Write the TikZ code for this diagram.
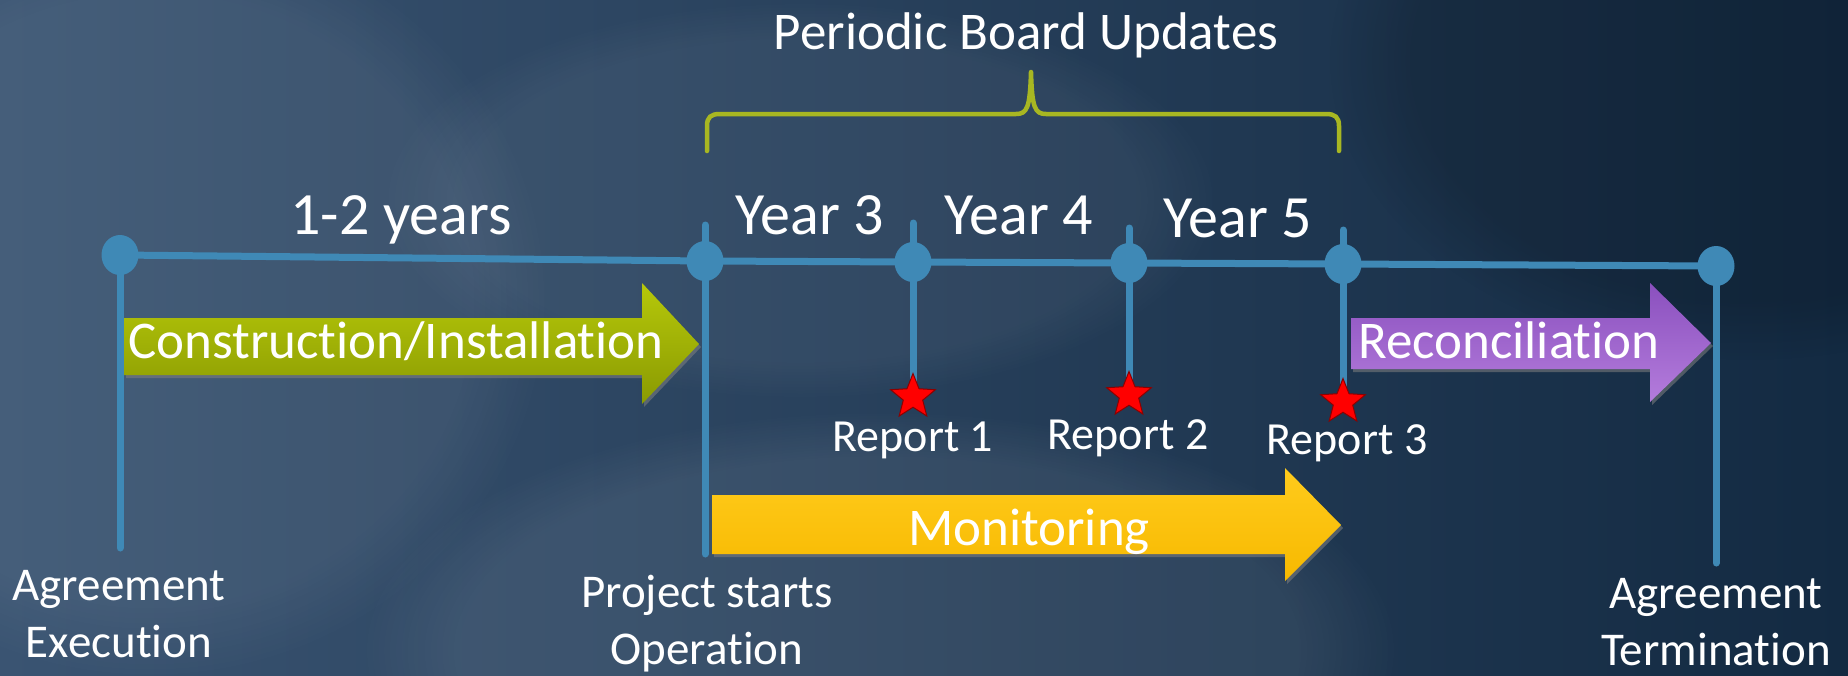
\documentclass[tikz,border=0pt]{standalone}
\usepackage{fontspec}
\setmainfont[Ligatures=NoCommon]{Carlito}
\usetikzlibrary{shapes.geometric,shadows,fadings}
\definecolor{bgA}{HTML}{3A5472}
\definecolor{bgB}{HTML}{132A42}
\definecolor{tl}{HTML}{3F89B6}
\definecolor{bracec}{HTML}{A8B722}
\definecolor{grT}{HTML}{B6C80A}
\definecolor{grB}{HTML}{8A9A02}
\definecolor{orT}{HTML}{FFCB1C}
\definecolor{orB}{HTML}{F7B900}
\definecolor{puT}{HTML}{8A50BE}
\definecolor{puB}{HTML}{B47CDC}
\tikzset{
  tline/.style={draw=tl, line width=7, line cap=round},
  tdot/.style={ellipse, fill=tl, minimum width=37, minimum height=40, inner sep=0},
  rstar/.style={star, star points=5, star point ratio=2.3, minimum size=47, inner sep=0, fill=red, draw=red!55!black, line width=1},
  wtxt/.style={text=white, inner sep=0},
  yeartxt/.style={wtxt, anchor=base, font=\fontsize{60}{70}\selectfont},
  reptxt/.style={wtxt, anchor=base, font=\fontsize{46}{54}\selectfont},
  arrtxt/.style={wtxt, anchor=base, font=\fontsize{53}{62}\selectfont},
  lbltxt/.style={wtxt, align=center, font=\fontsize{47}{57}\selectfont},
  arshadow/.style={drop shadow={opacity=0.55, shadow xshift=2pt, shadow yshift=-3pt}}
}
\begin{document}
\begin{tikzpicture}[x=1pt,y=-1pt]
\useasboundingbox (0,0) rectangle (1848,675);
% background
\shade[left color=bgA, right color=bgB] (0,0) rectangle (1848,675);
\fill[white, opacity=0.06, path fading=circle with fuzzy edge 20 percent] (150,300) ellipse (400 and 380);
\fill[white, opacity=0.07, path fading=circle with fuzzy edge 20 percent] (880,650) ellipse (520 and 240);
\fill[white, opacity=0.05, path fading=circle with fuzzy edge 20 percent] (800,200) ellipse (420 and 200);
\fill[black, opacity=0.15, path fading=circle with fuzzy edge 20 percent] (1750,60) ellipse (420 and 300);

% title and brace
\node[wtxt, anchor=base, font=\fontsize{53}{62}\selectfont] (title) at (1026,49) {Periodic Board Updates};
\draw[bracec, line width=4.5, line cap=round, line join=round]
  (707,151) -- (707,126) .. controls (707,117) and (711,114) .. (720,114)
  -- (1016,114) .. controls (1027,114) and (1030,108) .. (1031,72)
  .. controls (1032,108) and (1035,114) .. (1046,114)
  -- (1326,114) .. controls (1335,114) and (1339,117) .. (1339,126) -- (1339,151);

% year labels
\node[yeartxt] (y12) at (401,234) {1-2 years};
\node[yeartxt] (y3) at (810,234) {Year 3};
\node[yeartxt] (y4) at (1019,234) {Year 4};
\node[yeartxt] (y5) at (1238,237) {Year 5};

% timeline points
\coordinate (p1) at (120,255);
\coordinate (p2) at (705,261);
\coordinate (p3) at (913,262);
\coordinate (p4) at (1129,263);
\coordinate (p5) at (1343,264);
\coordinate (p6) at (1716,266);
\coordinate (t2) at (705,225);
\coordinate (t3) at (913,223);
\coordinate (t4) at (1129,228);
\coordinate (t5) at (1343,230);
\coordinate (b1) at (120,548);
\coordinate (b2) at (705,554);
\coordinate (b6) at (1716,563);

% arrows
\path[top color=grT, bottom color=grB, arshadow]
  (124,318) -- (642,318) -- (642,283) -- (699,344) -- (642,404) -- (642,375) -- (124,375) -- cycle;
\path[top color=orT, bottom color=orB, arshadow]
  (712,495) -- (1285,495) -- (1285,468) -- (1341,525) -- (1285,581) -- (1285,554) -- (712,554) -- cycle;
\path[top color=puT, bottom color=puB, arshadow]
  (1351,318) -- (1650,318) -- (1650,283) -- (1711,343) -- (1650,402) -- (1650,369) -- (1351,369) -- cycle;
\node[arrtxt] (con) at (396,358) {Construction/Installation};
\node[arrtxt] (mon) at (1029,545) {Monitoring};
\node[arrtxt] (rec) at (1509,358) {Reconciliation};

% stars (positions)
\coordinate (s1) at (913,397);
\coordinate (s2) at (1129,395);
\coordinate (s3) at (1343,402);

% lines
\draw[tline] (p1) -- (p2) -- (p3) -- (p4) -- (p5) -- (p6);
\draw[tline] (p1) -- (b1);
\draw[tline] (t2) -- (b2);
\draw[tline] (t3) -- (s1);
\draw[tline] (t4) -- (s2);
\draw[tline] (t5) -- (s3);
\draw[tline] (p6) -- (b6);
\node[rstar] (st1) at (s1) {};
\node[rstar] (st2) at (s2) {};
\node[rstar] (st3) at (s3) {};

% dots
\node[tdot] (d1) at (p1) {};
\node[tdot] (d2) at (p2) {};
\node[tdot] (d3) at (p3) {};
\node[tdot] (d4) at (p4) {};
\node[tdot] (d5) at (p5) {};
\node[tdot] (d6) at (p6) {};

% report labels
\node[reptxt] (r1) at (913,451) {Report 1};
\node[reptxt] (r2) at (1128,449) {Report 2};
\node[reptxt] (r3) at (1347,454) {Report 3};

% bottom labels
\node[lbltxt] (ae) at (119,614) {Agreement\\Execution};
\node[lbltxt] (ps) at (707,624) {Project starts\\Operation};
\node[lbltxt] (at) at (1716,622) {Agreement\\Termination};
\end{tikzpicture}
\end{document}
